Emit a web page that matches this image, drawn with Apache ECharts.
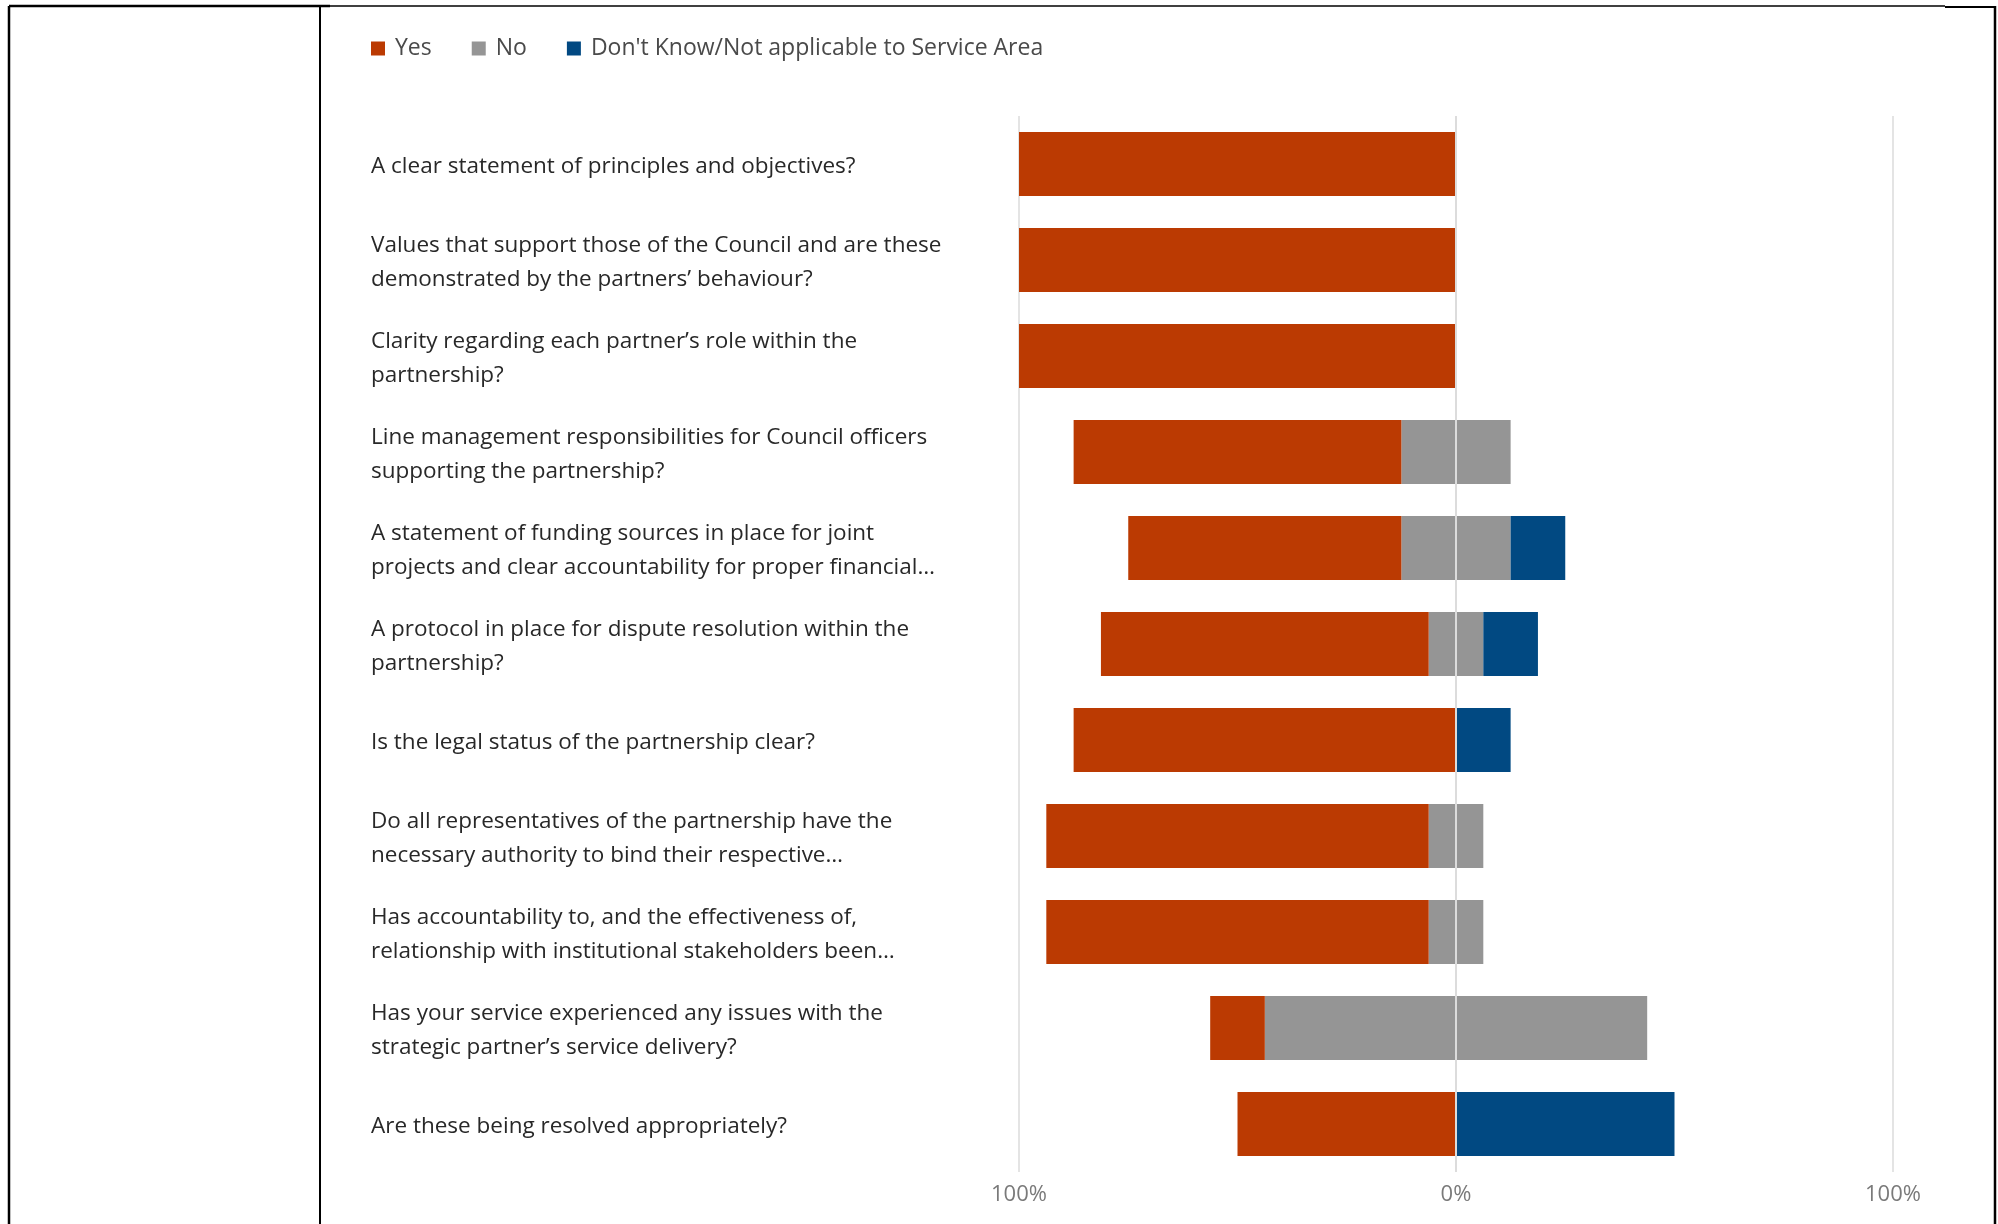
<!DOCTYPE html>
<html>
<head>
<meta charset="utf-8">
<title>Partnership governance survey</title>
<script src="https://cdn.jsdelivr.net/npm/echarts@6/dist/echarts.min.js"></script>
<style>
  html, body { margin: 0; padding: 0; background: #ffffff; }
  #chart { width: 1998px; height: 1224px; }
</style>
</head>
<body>
<div id="chart"></div>
<script>
// Survey questions, top to bottom
const categories = [
  "A clear statement of principles and objectives?",
  "Values that support those of the Council and are these\ndemonstrated by the partners’ behaviour?",
  "Clarity regarding each partner’s role within the\npartnership?",
  "Line management responsibilities for Council officers\nsupporting the partnership?",
  "A statement of funding sources in place for joint\nprojects and clear accountability for proper financial…",
  "A protocol in place for dispute resolution within the\npartnership?",
  "Is the legal status of the partnership clear?",
  "Do all representatives of the partnership have the\nnecessary authority to bind their respective…",
  "Has accountability to, and the effectiveness of,\nrelationship with institutional stakeholders been…",
  "Has your service experienced any issues with the\nstrategic partner’s service delivery?",
  "Are these being resolved appropriately?"
];

// Share of responses (%)
const yesValues = [100, 100, 100, 75, 62.5, 75, 87.5, 87.5, 87.5, 12.5, 50];
const noValues  = [0, 0, 0, 25, 25, 12.5, 0, 12.5, 12.5, 87.5, 0];
const dkValues  = [0, 0, 0, 0, 12.5, 12.5, 12.5, 0, 0, 0, 50];

const seriesNames = ["Yes", "No", "Don't Know/Not applicable to Service Area"];
const colors = { yes: "#BB3A02", no: "#959595", dk: "#014982" };

const FONT = "'Open Sans', 'Noto Sans', sans-serif";

const chart = echarts.init(document.getElementById('chart'), null, { renderer: 'canvas' });

// "No" is split evenly either side of zero, "Yes" extends left, "Don't know" right
const option = {
  backgroundColor: '#ffffff',
  animation: false,
  textStyle: { fontFamily: FONT },
  legend: {
    data: seriesNames.map(n => ({ name: n, icon: 'rect' })),
    left: 371,
    top: 37,
    padding: 0,
    itemWidth: 14,
    itemHeight: 14,
    itemGap: 40,
    textStyle: { fontFamily: FONT, fontSize: 23, color: '#4a4a4a', padding: [0, 0, 0, 5] },
    selectedMode: false
  },
  grid: { left: 1019, right: 105, top: 116, bottom: 52, containLabel: false },
  xAxis: {
    type: 'value',
    min: -100,
    max: 100,
    interval: 100,
    axisLine: { show: false },
    axisTick: { show: false },
    axisLabel: {
      formatter: v => Math.abs(v) + '%',
      fontFamily: FONT,
      fontSize: 22,
      color: '#7a7a7a',
      margin: 12
    },
    splitLine: { show: true, lineStyle: { color: '#e4e4e4', width: 2 } }
  },
  yAxis: {
    type: 'category',
    data: categories,
    inverse: true,
    axisLine: { show: false },
    axisTick: { show: false },
    axisLabel: {
      align: 'left',
      margin: 648,
      // each line sits a touch below the band centre
      formatter: v => v.split('\n').map(l => '{q|' + l + '}').join('\n'),
      rich: {
        q: {
          fontFamily: FONT,
          fontSize: 22.5,
          lineHeight: 34,
          color: '#282828',
          padding: [5, 0, 0, 0]
        }
      }
    }
  },
  series: [
    {
      name: 'No', type: 'bar', stack: 'diverge', barWidth: 64,
      itemStyle: { color: colors.no },
      data: noValues.map(v => -v / 2)
    },
    {
      name: 'Yes', type: 'bar', stack: 'diverge', barWidth: 64,
      itemStyle: { color: colors.yes },
      data: yesValues.map(v => -v)
    },
    {
      name: 'No', type: 'bar', stack: 'diverge', barWidth: 64,
      itemStyle: { color: colors.no },
      data: noValues.map(v => v / 2)
    },
    {
      name: seriesNames[2], type: 'bar', stack: 'diverge', barWidth: 64,
      itemStyle: { color: colors.dk },
      data: dkValues,
      markLine: {
        silent: true,
        symbol: 'none',
        label: { show: false },
        lineStyle: { color: '#dcdcdc', width: 2, type: 'solid' },
        data: [{ xAxis: 0 }]
      }
    }
  ],
  // page frame lines
  graphic: [
    { type: 'line', shape: { x1: 9, y1: 6, x2: 9, y2: 1224 }, style: { stroke: '#000', lineWidth: 2.5 } },
    { type: 'line', shape: { x1: 9, y1: 6, x2: 330, y2: 6 }, style: { stroke: '#000', lineWidth: 2.5 } },
    { type: 'line', shape: { x1: 320, y1: 6, x2: 320, y2: 1224 }, style: { stroke: '#000', lineWidth: 2 } },
    { type: 'line', shape: { x1: 330, y1: 6, x2: 1945, y2: 6 }, style: { stroke: '#000', lineWidth: 1.5 } },
    { type: 'line', shape: { x1: 1945, y1: 7, x2: 1995, y2: 7 }, style: { stroke: '#000', lineWidth: 2 } },
    { type: 'line', shape: { x1: 1995, y1: 6, x2: 1995, y2: 1224 }, style: { stroke: '#000', lineWidth: 2.5 } }
  ]
};

chart.setOption(option);
</script>
</body>
</html>
